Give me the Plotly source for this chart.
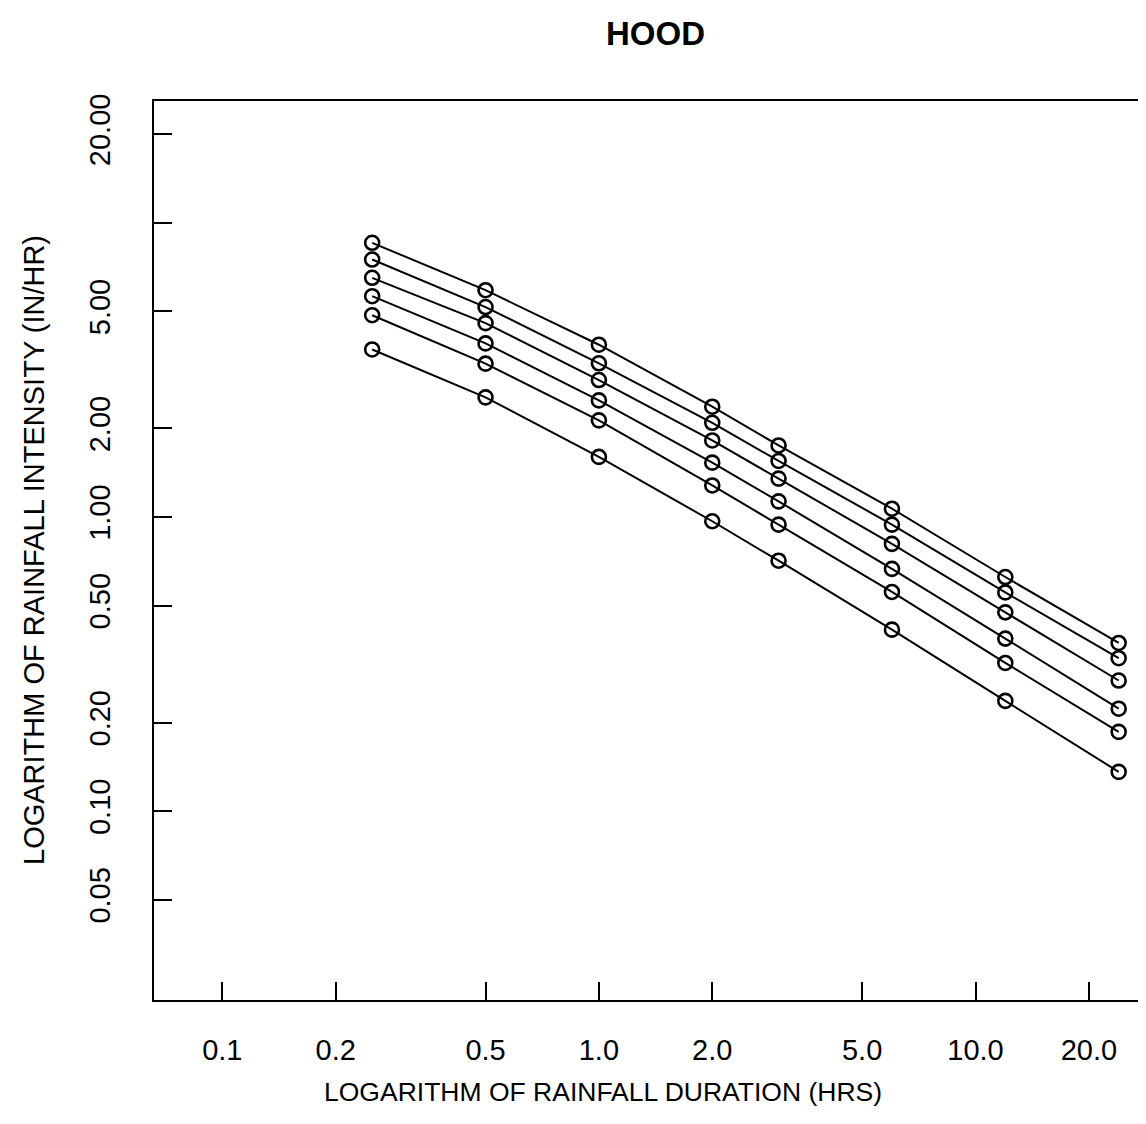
import plotly.graph_objects as go

durations = [0.25, 0.5, 1.0, 2.0, 3.0, 6.0, 12.0, 24.0]

series_names = ["S1", "S2", "S3", "S4", "S5", "S6"]
s1 = [3.71, 2.55, 1.60, 0.967, 0.710, 0.414, 0.237, 0.136]
s2 = [4.85, 3.32, 2.13, 1.28, 0.942, 0.556, 0.319, 0.186]
s3 = [5.63, 3.89, 2.49, 1.53, 1.13, 0.666, 0.386, 0.223]
s4 = [6.50, 4.56, 2.92, 1.82, 1.35, 0.81, 0.474, 0.278]
s5 = [7.50, 5.17, 3.33, 2.09, 1.55, 0.942, 0.554, 0.331]
s6 = [8.55, 5.90, 3.85, 2.37, 1.75, 1.067, 0.625, 0.373]
all_series = [s1, s2, s3, s4, s5, s6]

x_tickvals = [0.1, 0.2, 0.5, 1.0, 2.0, 5.0, 10.0, 20.0]
x_ticktext = ["0.1", "0.2", "0.5", "1.0", "2.0", "5.0", "10.0", "20.0"]
y_tickvals = [0.05, 0.1, 0.2, 0.5, 1.0, 2.0, 5.0, 10.0, 20.0]
y_ticktext = ["0.05", "0.10", "0.20", "0.50", "1.00", "2.00", "5.00", "", "20.00"]

title_text = "HOOD"
x_title = "LOGARITHM OF RAINFALL DURATION (HRS)"
y_title = "LOGARITHM OF RAINFALL INTENSITY (IN/HR)"

FONT = "Liberation Sans, Arial, Helvetica, sans-serif"

fig = go.Figure()
for name, vals in zip(series_names, all_series):
    fig.add_trace(go.Scatter(
        x=durations, y=vals, name=name, mode="lines+markers",
        line=dict(color="black", width=2),
        marker=dict(symbol="circle-open", size=14, color="black",
                    line=dict(color="black", width=2.6)),
        showlegend=False,
    ))

W, H = 1146, 1124
L, R, T, B = 146, 0, 93, 132
pw, ph = W - L - R, H - T - B

def px_to_paper(px, py):
    return (px - L) / pw, (H - B - py) / ph

fig.update_layout(
    width=W, height=H,
    margin=dict(l=L, r=R, t=T, b=B, pad=0),
    paper_bgcolor="white", plot_bgcolor="white",
    font=dict(family=FONT, color="black", size=29),
    showlegend=False,
)
fig.update_xaxes(
    type="log", range=[-1.1814, 1.4740],
    tickvals=x_tickvals, ticktext=x_ticktext,
    ticks="inside", ticklen=18, tickwidth=2, tickcolor="black",
    showline=True, linecolor="black", linewidth=2, mirror=True,
    showgrid=False, zeroline=False,
    tickfont=dict(size=29, family=FONT, color="black"),
    ticklabelstandoff=23,
)
fig.update_yaxes(
    type="log", range=[-1.642, 1.414],
    tickvals=y_tickvals, ticktext=y_ticktext,
    ticks="inside", ticklen=18, tickwidth=2, tickcolor="black",
    showline=True, linecolor="black", linewidth=2, mirror=False,
    showgrid=False, zeroline=False, tickangle=-90,
    tickfont=dict(size=29, family=FONT, color="black"),
    ticklabelstandoff=30,
)

ax, ay = px_to_paper(647, 25)
fig.add_annotation(text="<b>" + title_text + "</b>", x=ax, y=ay, xref="paper", yref="paper",
                   showarrow=False, xanchor="center", yanchor="middle",
                   font=dict(size=33, family=FONT, color="black"))
ax, ay = px_to_paper(595, 1084)
fig.add_annotation(text=x_title, x=ax, y=ay, xref="paper", yref="paper",
                   showarrow=False, xanchor="center", yanchor="middle",
                   font=dict(size=26.5, family=FONT, color="black"))
ax, ay = px_to_paper(26, 542)
fig.add_annotation(text=y_title, x=ax, y=ay, xref="paper", yref="paper",
                   showarrow=False, xanchor="center", yanchor="middle", textangle=-90,
                   font=dict(size=29, family=FONT, color="black"))

fig.write_html("out.html")
